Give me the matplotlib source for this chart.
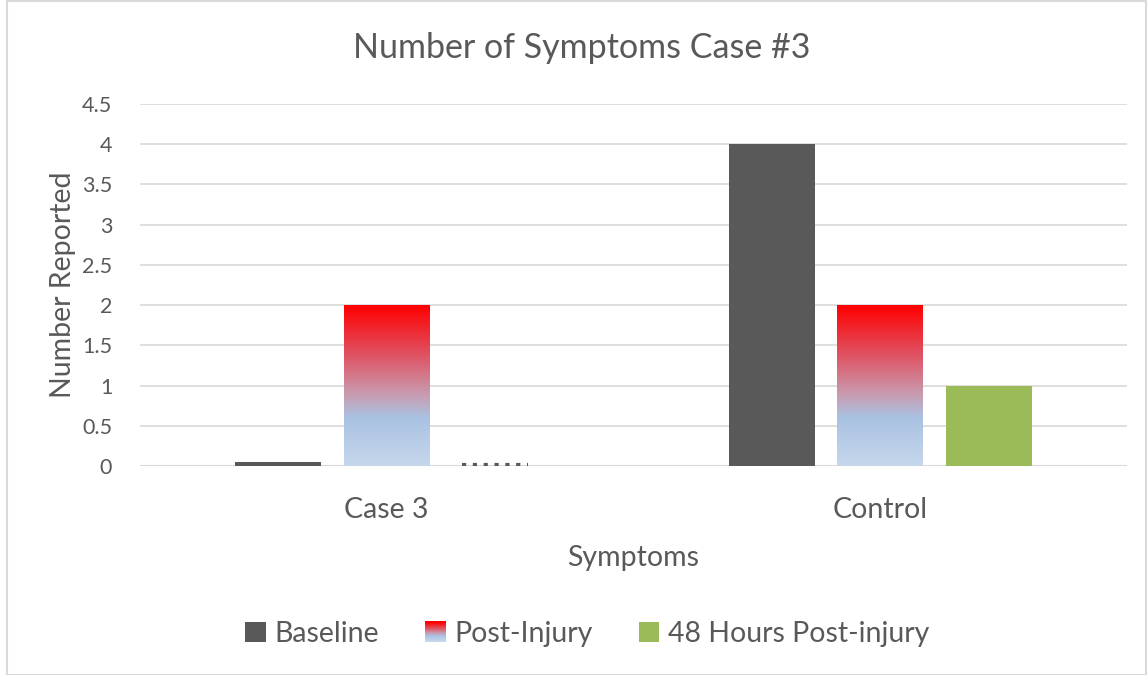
import numpy as np
import matplotlib
matplotlib.use("Agg")
import matplotlib.pyplot as plt
from matplotlib.patches import Patch, Rectangle
from matplotlib.colors import LinearSegmentedColormap
from matplotlib.legend_handler import HandlerPatch

plt.rcParams['font.family'] = ['Lato', 'DejaVu Sans']

categories = ["Case 3", "Control"]
series_names = ["Baseline", "Post-Injury", "48 Hours Post-injury"]
baseline = [0.05, 4]
post_injury = [2, 2]
hours48 = [0, 1]
yticks = [0, 0.5, 1, 1.5, 2, 2.5, 3, 3.5, 4, 4.5]

text_color = "#595959"
grid_color = "#d9d9d9"
c_base = "#595959"
c_48 = "#9bbb59"
grad = LinearSegmentedColormap.from_list(
    "g", [(0.0, "#c6d7ec"), (0.3, "#a9c2e2"), (0.45, "#c99aae"), (0.7, "#e05060"), (1.0, "#ff0000")])

fig = plt.figure(figsize=(11.47, 6.75), dpi=100)
ax = fig.add_axes([140/1147, 1-466/675, (1127-140)/1147, (466-104)/675])

x = np.arange(len(categories))
w = 0.174
step = 0.22

ax.bar(x - step, baseline, w, color=c_base, zorder=3)
pi_bars = ax.bar(x, post_injury, w, color="none", zorder=3)
b48 = ax.bar(x + step, hours48, w, color=c_48, zorder=3)
# zero-valued 48h bar artifact in Case 3
for xi, v in zip(x, hours48):
    if v == 0:
        ax.plot([xi + step - w/2 + 0.02, xi + step + w/2 - 0.02], [0.015, 0.015],
                color=c_base, lw=3, ls=(0, (1.0, 1.6)), zorder=4, solid_capstyle='butt')

gimg = np.linspace(0, 1, 256).reshape(-1, 1)
for bar in pi_bars:
    bx, by = bar.get_x(), bar.get_y()
    bw, bh = bar.get_width(), bar.get_height()
    ax.imshow(gimg, cmap=grad, origin="lower", aspect="auto",
              extent=[bx, bx + bw, by, by + bh], zorder=3)

ax.set_xlim(-0.5, 1.5)
ax.set_ylim(0, 4.5)
ax.set_yticks(yticks)
ax.set_yticklabels([f"{t:g}" for t in yticks])
ax.set_xticks(x)
ax.set_xticklabels(categories)
ax.grid(axis='y', color=grid_color, lw=1.2, zorder=0)
for s in ax.spines.values():
    s.set_visible(False)
ax.axhline(0, color=grid_color, lw=1.5, zorder=2)
ax.tick_params(axis='both', length=0, colors=text_color, labelsize=15.5)
ax.tick_params(axis='x', labelsize=20.5, pad=22)
ax.tick_params(axis='y', pad=20)
ax.set_xlabel("Symptoms", fontsize=20.5, color=text_color, labelpad=16)
ax.set_ylabel("Number Reported", fontsize=20.5, color=text_color, labelpad=4)
fig.text(582/1147, 1-48/675, "Number of Symptoms Case #3", ha='center', va='center',
         fontsize=24.5, color=text_color)


class GradHandler(HandlerPatch):
    def create_artists(self, legend, orig_handle, xdescent, ydescent, width, height, fontsize, trans):
        arts = []
        n = 20
        cx = -xdescent + (width - height) / 2
        for i in range(n):
            r = Rectangle((cx, -ydescent + height * i / n), height, height / n + 0.3,
                          facecolor=grad(i / (n - 1)), edgecolor='none', transform=trans)
            arts.append(r)
        return arts


class SquareHandler(HandlerPatch):
    def create_artists(self, legend, orig_handle, xdescent, ydescent, width, height, fontsize, trans):
        cx = -xdescent + (width - height) / 2
        r = Rectangle((cx, -ydescent), height, height, facecolor=orig_handle.get_facecolor(),
                      edgecolor='none', transform=trans)
        return [r]


h_base = Patch(facecolor=c_base)
h_pi = Patch(facecolor="red", label="pi")
h_48 = Patch(facecolor=c_48)
leg = fig.legend([h_base, h_pi, h_48], series_names, loc='center', ncol=3,
                 bbox_to_anchor=(587/1147, 1-634/675), frameon=False, fontsize=20.5,
                 labelcolor=text_color, handlelength=0.75, handleheight=0.75,
                 handletextpad=0.3, columnspacing=1.6,
                 handler_map={h_pi: GradHandler(), h_base: SquareHandler(), h_48: SquareHandler()})

fig.patches.append(Rectangle((7/1147, 0.5/675), 1-8/1147, 1-1/675, transform=fig.transFigure,
                             fill=False, edgecolor="#d9d9d9", lw=1.5))

fig.savefig("out.png", dpi=100)
